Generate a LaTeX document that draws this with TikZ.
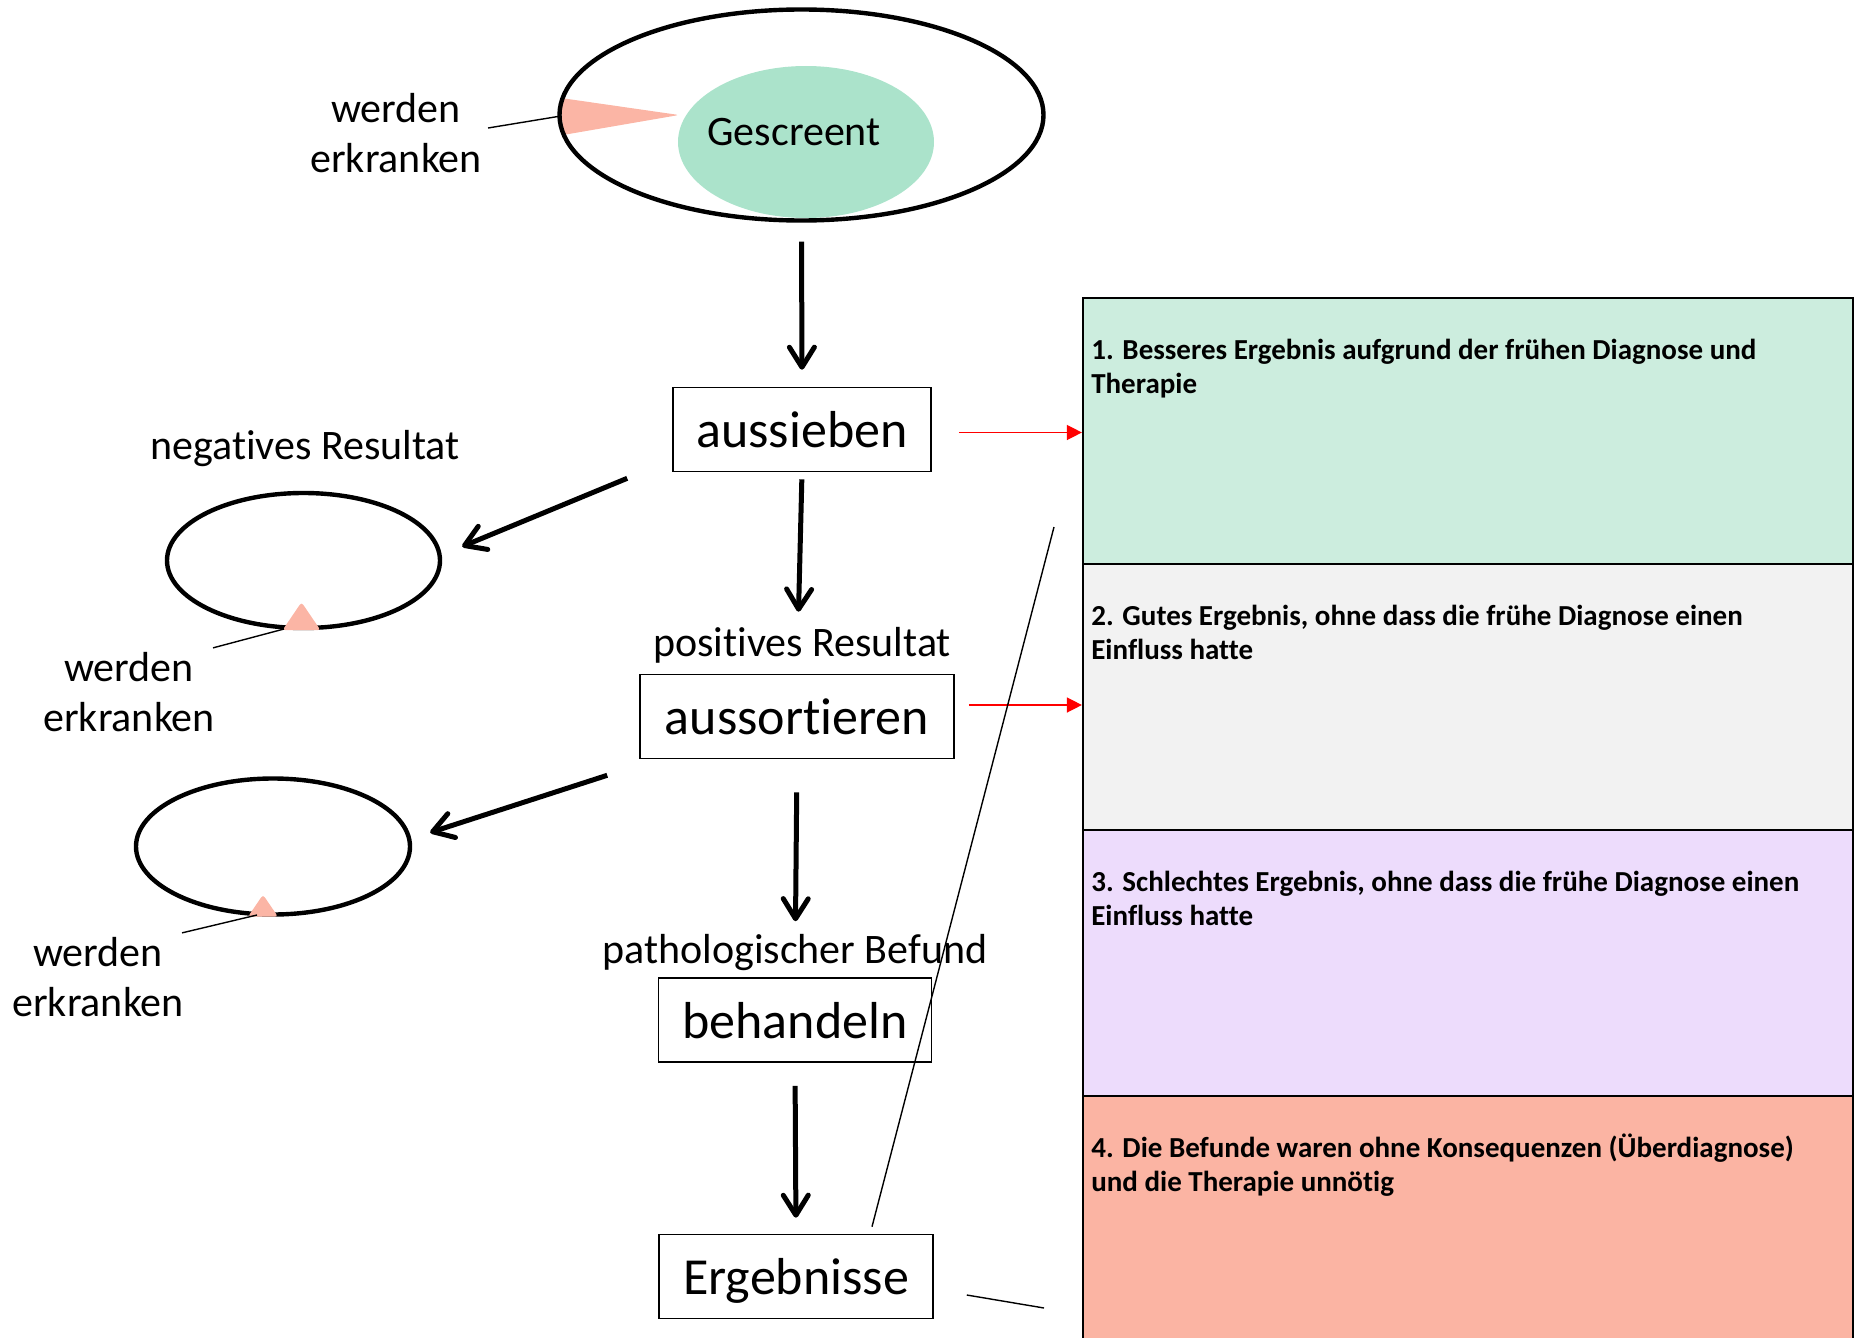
\documentclass[tikz,border=0pt]{standalone}
\usepackage{fontspec}
\setmainfont{Carlito}[RawFeature={-liga;-clig;-dlig;-calt}]
\usetikzlibrary{arrows.meta, shapes.geometric, positioning}
\definecolor{Mint}  {HTML}{ABE3CB}
\definecolor{Sick}  {HTML}{FBB5A5}
\definecolor{RowA}  {HTML}{CCEDDE}
\definecolor{RowB}  {HTML}{F2F2F2}
\definecolor{RowC}  {HTML}{EDDCFC}
\definecolor{RowD}  {HTML}{FBB4A3}
\tikzset{
  stepbox/.style={
    rectangle, draw, line width=0.8pt,
    font=\fontsize{26}{30}\selectfont,
    minimum width=#1, minimum height=42pt,
    inner sep=0pt, text depth=0pt,
  },
  lbl/.style={
    font=\fontsize{21}{25}\selectfont,
    align=center, inner sep=2pt,
  },
  pop/.style args={#1/#2}{
    ellipse, draw, line width=2.2pt,
    minimum width=#1, minimum height=#2, inner sep=0pt,
  },
  row/.style={
    rectangle, draw, line width=1.1pt, fill=#1,
    minimum width=385pt, minimum height=133pt,
  },
  rtxt/.style={
    font=\fontsize{14.5}{17}\selectfont\bfseries,
    anchor=north west, align=left, inner sep=0pt,
  },
  arr/.style={
    -{Straight Barb[length=10pt,width=12.5pt,round]},
    line width=2.5pt,
  },
  redarr/.style={
    -{Triangle[length=7.5pt,width=7.5pt]},
    line width=0.7pt, color=red,
  },
  thin/.style={line width=0.7pt},
  sick/.style={fill=Sick, rounded corners=1.5pt},
}

\begin{document}
\begin{tikzpicture}[x=0.5pt,y=-0.5pt]
  \useasboundingbox (0,0) rectangle (1859,1338);

  % population and screened part
  \node[ellipse, fill=Mint, minimum width=128pt, minimum height=76pt] (scr) at (806,142) {};
  \fill[sick] (561,98) -- (679,115) -- (563,135) -- cycle;
  \coordinate (w1) at (561,116);
  \node[pop=242pt/105.5pt] (all) at (801.5,115) {};
  \node[lbl] (scrtxt) at (794,132) {Gescreent};
  \node[lbl] (wk1) at (396,133) {werden\\erkranken};

  % steps
  \node[stepbox=129pt]   (sieb) at (802,429.5)  {aussieben};
  \node[stepbox=157pt]   (sort) at (797,716.5)  {aussortieren};
  \node[stepbox=136.5pt] (beh)  at (795,1020)   {behandeln};
  \node[stepbox=137pt]   (erg)  at (796,1276.5) {Ergebnisse};

  \node[lbl] (negtxt)  at (305,449) {negatives Resultat};
  \node[lbl] (postxt)  at (802,645) {positives Resultat};
  \node[lbl] (pathtxt) at (795,953) {pathologischer Befund};

  % negative and dismissed groups
  \node[pop=136.5pt/67.5pt] (neg) at (303.5,560.5) {};
  \fill[sick] ([shift={(-21,0)}]neg.south) -- ([shift={(-2,-28)}]neg.south)
              -- ([shift={(17,0)}]neg.south) -- cycle;
  \coordinate (t2) at (284,629);
  \node[lbl] (wk2) at (129,692) {werden\\erkranken};

  \node[pop=137pt/68pt] (bad) at (273,846.5) {};
  \fill[sick] ([shift={(-25,0)}]bad.south) -- ([shift={(-10,-22)}]bad.south)
              -- ([shift={(5,0)}]bad.south) -- cycle;
  \coordinate (t3) at (257,915);
  \node[lbl] (wk3) at (98,977) {werden\\erkranken};

  % outcome panel
  \node[row=RowA] (r1) at (1468,431)  {};
  \node[row=RowB] (r2) at (1468,697)  {};
  \node[row=RowC] (r3) at (1468,963)  {};
  \node[row=RowD] (r4) at (1468,1229) {};
  \node[rtxt] (o1) at ([shift={(9,38)}]r1.north west)
    {\strut 1. Besseres Ergebnis aufgrund der frühen Diagnose und\\Therapie};
  \node[rtxt] (o2) at ([shift={(9,38)}]r2.north west)
    {\strut 2. Gutes Ergebnis, ohne dass die frühe Diagnose einen\\Einfluss hatte};
  \node[rtxt] (o3) at ([shift={(9,38)}]r3.north west)
    {\strut 3. Schlechtes Ergebnis, ohne dass die frühe Diagnose einen\\Einfluss hatte};
  \node[rtxt] (o4) at ([shift={(9,38)}]r4.north west)
    {\strut 4. Die Befunde waren ohne Konsequenzen (Überdiagnose)\\und die Therapie unnötig};

  % connectors
  \draw[arr, shorten <=9.5pt, shorten >=8.5pt] (all.south) -- (sieb.north);
  \draw[arr, shorten <=3.5pt, shorten >=31pt] (sieb.south) -- (sort.north);
  \draw[arr, shorten <=16.5pt, shorten >=28pt] (sort.south) -- (beh.north);
  \draw[arr, shorten <=11.5pt, shorten >=8pt] (beh.south) -- (erg.north);
  \draw[arr] ([shift={(-45,6)}]sieb.south west) -- ([shift={(20,-14)}]neg.east);
  \draw[arr] ([shift={(-32,16)}]sort.south west) -- ([shift={(18,-14)}]bad.east);

  \draw[redarr] ([shift={(27,3)}]sieb.east) coordinate (a1) -- (a1 -| r1.west);
  \draw[redarr] ([shift={(14,-11.5)}]sort.east) coordinate (a2) -- (a2 -| r2.west);

  \draw[thin] ([shift={(2,-5)}]wk1.east) -- (w1);
  \draw[thin] ([xshift=-3pt]wk2.north east) -- (t2);
  \draw[thin] ([xshift=-3pt]wk3.north east) -- (t3);

  \coordinate (c1) at (1054,527);
  \coordinate (c2) at (1044,1308);
  \draw[thin] ([shift={(76,-7)}]erg.north) -- (c1);
  \draw[thin] ([shift={(33,18.5)}]erg.east) -- (c2);

\end{tikzpicture}
\end{document}
